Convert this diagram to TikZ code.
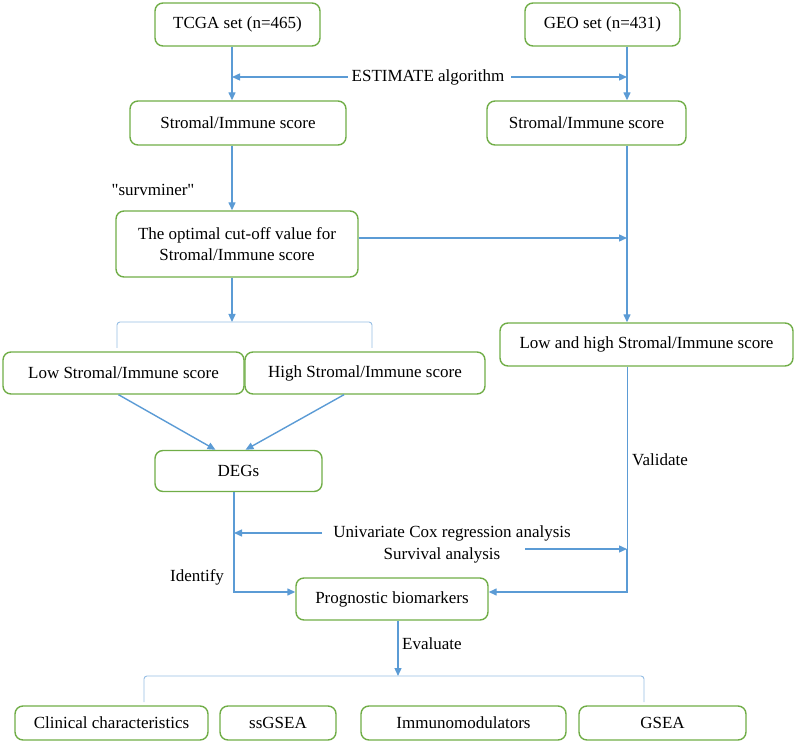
\documentclass[tikz,border=0pt]{standalone}
\usepackage{fontspec}
\setmainfont{Liberation Serif}
\newfontfamily\rawserif{Liberation Serif}
\usetikzlibrary{arrows.meta}
\definecolor{bgreen}{RGB}{112,173,71}
\definecolor{ablue}{RGB}{91,155,213}
\definecolor{lblue}{RGB}{150,190,228}
\begin{document}
\begin{tikzpicture}[x=1pt,y=-1pt,
  every node/.style={font=\fontsize{17}{21}\selectfont},
  box/.style={draw=bgreen, line width=1.4pt, rounded corners=8pt, inner sep=0pt, align=center},
  arr/.style={draw=ablue, line width=1.4pt, -{Triangle[length=8pt,width=7pt]}},
  thinline/.style={draw=ablue, line width=0.9pt},
  brk/.style={draw=lblue, line width=0.9pt, rounded corners=3pt},
  lbl/.style={inner sep=2pt}]
\useasboundingbox (0,0) rectangle (796,743);
% coordinates
\coordinate (xl) at (232,0);
\coordinate (xr) at (627,0);
\coordinate (xd) at (234,0);
\coordinate (xe) at (398,0);
\coordinate (py) at (0,592);
\coordinate (ca) at (627,238);
\coordinate (bt) at (232,322);
\coordinate (bb) at (398,676);
\coordinate (sa) at (525,549);
\coordinate (sv) at (627,549);
% boxes
\node[box, minimum width=165, minimum height=43] (tcga) at (237.5,24.5) {TCGA set (n=465)};
\node[box, minimum width=155, minimum height=43] (geo) at (602.5,24.5) {GEO set (n=431)};
\node[box, minimum width=216, minimum height=44] (sl) at (238,123) {Stromal/Immune score};
\node[box, minimum width=199, minimum height=44] (sr) at (586.5,123) {Stromal/Immune score};
\node[box, minimum width=242, minimum height=66] (cut) at (237,244) {The optimal cut-off value for\\Stromal/Immune score};
\node[box, minimum width=241, minimum height=42] (low) at (123.5,373) {Low Stromal/Immune score};
\node[box, minimum width=240, minimum height=42] (high) at (365,373) {High Stromal/Immune score};
\node[box, minimum width=293, minimum height=43] (lh) at (646.5,344.5) {Low and high Stromal/Immune score};
\node[box, minimum width=167, minimum height=41] (deg) at (238.5,471) {DEGs};
\node[box, minimum width=192, minimum height=42] (prog) at (392,599) {Prognostic biomarkers};
\node[box, minimum width=193, minimum height=34] (b1) at (111.5,723) {Clinical characteristics};
\node[box, minimum width=116, minimum height=34] (b2) at (278,723) {ssGSEA};
\node[box, minimum width=205, minimum height=34] (b3) at (463.5,723) {Immunomodulators};
\node[box, minimum width=167, minimum height=34] (b4) at (662.5,723) {GSEA};
% labels
\node[lbl] (est) at (428,77) {ESTIMATE algorithm};
\node[lbl] (surm) at (153,190) {\rawserif "survminer"};
\node[lbl] (uni) at (452,533) {Univariate Cox regression analysis};
\node[lbl] (surv) at (442,555) {Survival analysis};
\node[lbl] (iden) at (197,577) {Identify};
\node[lbl, anchor=west] (val) at (630,460) {Validate};
\node[lbl, anchor=west] (eva) at (400,644) {Evaluate};
% connectors
\draw[arr] (tcga.south -| xl) -- (sl.north -| xl);
\draw[arr] (geo.south -| xr) -- (sr.north -| xr);
\draw[arr] ([xshift=-2pt]est.west) -- (est.west -| xl);
\draw[arr] ([xshift=5pt]est.east) -- (est.east -| xr);
\draw[arr] (sl.south -| xl) -- (cut.north -| xl);
\draw[arr] (cut.east |- ca) -- (ca);
\draw[arr] (sr.south -| xr) -- (lh.north -| xr);
\draw[arr] (cut.south -| xl) -- (bt);
\draw[brk] (117,348) -- (117,322) -- (372,322) -- (372,348);
\draw[arr] ([xshift=-5pt]low.south) -- ([xshift=-23pt]deg.north);
\draw[arr] ([xshift=-21pt]high.south) -- ([xshift=7pt]deg.north);
\draw[arr] (deg.south -| xd) -- (xd |- py) -- (prog.west |- py);
\draw[arr] ([xshift=-9pt]uni.west) -- (uni.west -| xd);
\draw[arr] (sa) -- (sv);
\draw[thinline] (lh.south -| xr) -- (sv);
\draw[arr] (sv) -- (xr |- py) -- (prog.east |- py);
\draw[arr] (prog.south -| xe) -- (bb);
\draw[brk] (144,702) -- (144,676) -- (644,676) -- (644,702);
\end{tikzpicture}
\end{document}
